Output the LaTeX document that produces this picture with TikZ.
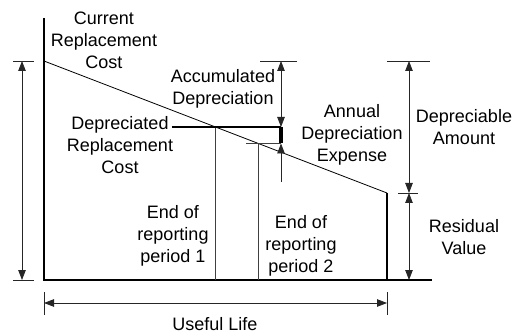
\documentclass[tikz,border=0pt]{standalone}
\usepackage{fontspec}
\setmainfont{Liberation Sans}
\usetikzlibrary{arrows.meta,calc}
\newcommand{\baseY}{280}
\newcommand{\topY}{61}
\newcommand{\resY}{193}

\begin{document}
\begin{tikzpicture}[x=1pt,y=-1pt,
    >={Triangle[length=10pt,width=7.5pt]},
    thickline/.style={line width=2pt},
    thinline/.style={line width=0.8pt,black!75},
    dimline/.style={line width=0.8pt,black!85},
    lbl/.style={font=\fontsize{18}{22}\selectfont,align=center,inner sep=0pt}]
    \useasboundingbox (0,0) rectangle (526,336);

    % key points of the value line
    \coordinate (top) at (44,18);
    \coordinate (origin) at (44,\baseY);
    \coordinate (crc) at (44,\topY);
    \coordinate (rv) at (387,\resY);
    \coordinate (rvb) at (387,\baseY);
    \coordinate (baseend) at (432,\baseY);
    \coordinate (p1) at ($(crc)!0.5!(rv)$);
    \coordinate (p2) at ($(crc)!0.625!(rv)$);

    % axes and value line
    \draw[line width=0.8pt] (crc) -- (rv);
    \draw[thickline] (top) -- (origin) -- (baseend);
    \draw[thickline] (rv) -- (rvb);

    % end of reporting periods
    \draw[thinline] (p1) -- (p1 |- origin);
    \draw[thinline] (p2) -- (p2 |- origin);

    % depreciated replacement cost and accumulated depreciation
    \coordinate (ad) at (281,\topY);
    \coordinate (ad1) at (ad |- p1);
    \coordinate (ad2) at (ad |- p2);
    \coordinate (adlow) at (281,182);
    \coordinate (drc) at ($(p1)+(-44,0)$);
    \draw[thickline] (drc) -- (ad1);
    \draw[line width=4pt] (ad1) -- (ad2);
    \draw[thinline] ($(p2)+(-12,0)$) -- (ad2);
    \draw[dimline] ($(ad)+(-21,0)$) -- ($(ad)+(16,0)$);
    \draw[dimline,<->] (ad) -- (ad1);
    \draw[dimline,->] (adlow) -- (ad2);

    % current replacement cost (left)
    \coordinate (lt) at (22,\topY);
    \coordinate (lb) at (22,\baseY);
    \draw[dimline] ($(lt)+(-9,0)$) -- ($(lt)+(12,0)$);
    \draw[dimline] ($(lb)+(-9,0)$) -- ($(lb)+(12,0)$);
    \draw[dimline,<->] (lt) -- (lb);

    % useful life
    \coordinate (ul) at (44,303);
    \coordinate (ur) at (387,303);
    \draw[dimline] ($(ul)+(0,-11)$) -- ($(ul)+(0,12)$);
    \draw[dimline] ($(ur)+(0,-11)$) -- ($(ur)+(0,12)$);
    \draw[dimline,<->] (ul) -- (ur);

    % depreciable amount and residual value
    \coordinate (da) at (409,\topY);
    \coordinate (dm) at (409,\resY);
    \coordinate (db) at (409,\baseY);
    \draw[dimline] ($(da)+(-22,0)$) -- ($(da)+(21,0)$);
    \draw[dimline] ($(dm)+(-11,0)$) -- ($(dm)+(9,0)$);
    \draw[dimline,<->] (da) -- (dm);
    \draw[dimline,<->] (dm) -- (db);

    % labels
    \node[lbl] (crclbl) at (104,40) {Current\\Replacement\\Cost};
    \node[lbl] (adlbl) at (223,89) {Accumulated\\Depreciation};
    \node[lbl] (drclbl) at (120,145) {Depreciated\\Replacement\\Cost};
    \node[lbl] (adelbl) at (352,135) {Annual\\Depreciation\\Expense};
    \node[lbl] (dalbl) at (464,127) {Depreciable\\Amount};
    \node[lbl] (rvlbl) at (464,237) {Residual\\Value};
    \node[lbl] (p1lbl) at (173,236) {End of\\reporting\\period 1};
    \node[lbl] (p2lbl) at (301,246) {End of\\reporting\\period 2};
    \node[lbl] (ullbl) at (215,324) {Useful Life};
\end{tikzpicture}
\end{document}
